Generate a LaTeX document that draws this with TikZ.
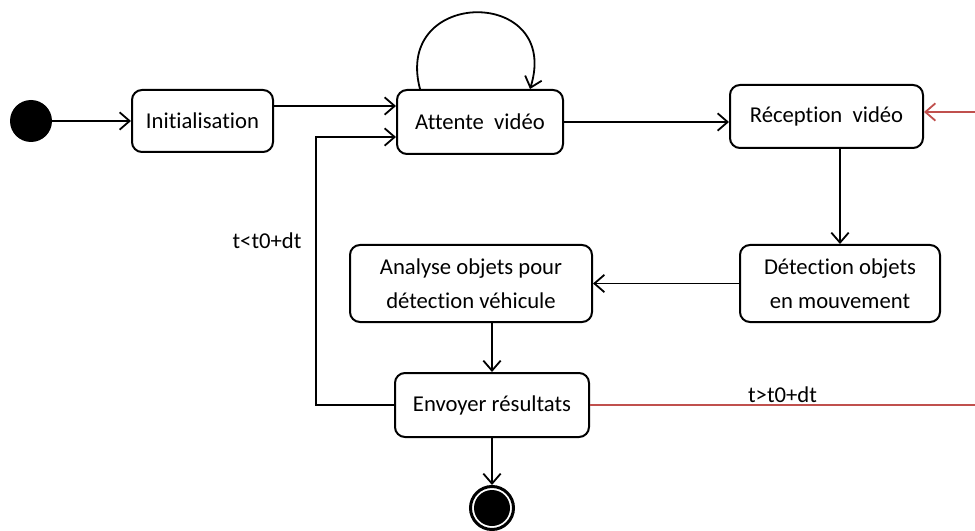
\documentclass[tikz,border=0pt]{standalone}
\usepackage{fontspec}
\setmainfont{Carlito}[Ligatures=NoCommon]
\usetikzlibrary{arrows.meta,calc}
\definecolor{rougeSortie}{HTML}{C0504D}

\begin{document}
\begin{tikzpicture}[x=0.75pt,y=-0.75pt]
          \tikzstyle{every node}=[font=\fontsize{17}{25.5}\selectfont]
          \tikzstyle{etat}=[rectangle, draw, rounded corners=7.5pt, line width=1.5pt, align=center, inner sep=0pt]
          \tikzstyle{fleche}=[line width=1.35pt, -{Straight Barb[length=7.5pt,width=13pt,line width=1.35pt]}]
          \useasboundingbox (0,0) rectangle (975,531);
          % etats
          \node (Debut)[circle, fill, minimum size=31.5pt, inner sep=0pt] at (31,121) {};
          \node (Init)[etat, minimum width=105.75pt, minimum height=46.5pt] at (202.5,121) {Initialisation};
          \node (Attente)[etat, minimum width=124.5pt, minimum height=48pt] at (480,122) {Attente~ vidéo};
          \node (Reception)[etat, minimum width=144.75pt, minimum height=47.25pt] at (826.5,116.5) {Réception~ vidéo};
          \node (Detection)[etat, minimum width=150pt, minimum height=57.75pt] at (840,283.5) {Détection objets\\en mouvement};
          \node (Analyse)[etat, minimum width=181.5pt, minimum height=57.75pt] at (471,283.5) {Analyse objets pour\\détection véhicule};
          \node (Envoyer)[etat, minimum width=145.5pt, minimum height=48pt] at (492,405) {Envoyer résultats};
          \node (Fin)[circle, draw, line width=2.25pt, minimum size=32.25pt, inner sep=0pt] at (492,508) {};
          \node (FinPlein)[circle, fill, minimum size=27pt, inner sep=0pt] at (Fin) {};
          \coordinate (BordHaut) at (975,112);
          \coordinate (BordBas) at (975,405);
          % transitions
          \draw[fleche] (Debut) -- (Init);
          \draw[fleche] ([yshift=11.25pt]Init.east) -- ([yshift=11.25pt]Init.east -| Attente.west);
          \draw[fleche] ($(Attente.north)+(-60,0)$) .. controls (393,-13) and (562,-13) .. ($(Attente.north)+(50,0)$);
          \draw[fleche] (Attente.east) -- (Attente.east -| Reception.west);
          \draw[fleche] (Detection.north |- Reception.south) -- (Detection.north);
          \draw[fleche] (Detection) -- (Analyse);
          \draw[fleche] (Analyse.south -| Envoyer.north) -- (Envoyer.north);
          \draw[fleche] (Envoyer) -- (Fin);
          \draw[fleche] (Envoyer.west) -- ++(-78,0) |- ([yshift=-11.25pt]Attente.west);
          \node (CondInf) at (267,241) {t<t0+dt};
          \draw[fleche, draw=rougeSortie] (BordHaut) -- (BordHaut -| Reception.east);
          \draw[line width=1pt, rougeSortie] (Envoyer.east) -- (BordBas) node[midway, above, inner sep=1pt, text=black] (CondSup) {t>t0+dt};
\end{tikzpicture}
\end{document}
